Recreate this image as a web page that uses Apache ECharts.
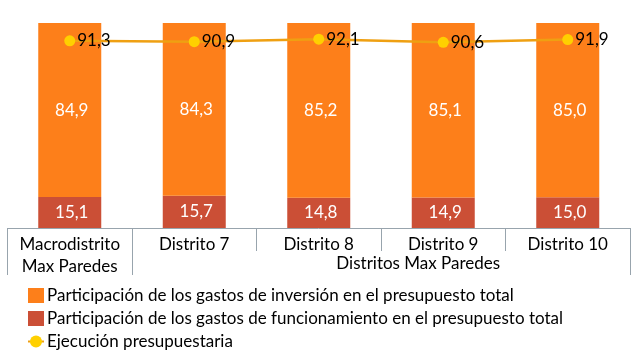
<!DOCTYPE html>
<html>
<head>
<meta charset="utf-8">
<script src="https://cdn.jsdelivr.net/npm/echarts@6/dist/echarts.min.js"></script>
<style>html,body{margin:0;padding:0;background:#fff}#c{width:638px;height:355px}</style>
</head>
<body>
<div id="c"></div>
<script>
const categories = ['Macrodistrito\nMax Paredes', 'Distrito 7', 'Distrito 8', 'Distrito 9', 'Distrito 10'];
const groupLabels = ['', '', '', 'Distritos Max Paredes', ''];
const inversion = [84.9, 84.3, 85.2, 85.1, 85.0];
const funcionamiento = [15.1, 15.7, 14.8, 14.9, 15.0];
const ejecucion = [91.3, 90.9, 92.1, 90.6, 91.9];
const seriesNames = [
  'Participación de los gastos de inversión en el presupuesto total',
  'Participación de los gastos de funcionamiento en el presupuesto total',
  'Ejecución presupuestaria'
];

const FONT = 'Lato';
const FS = 17;
const fmt = p => p.value.toFixed(1).replace('.', ',');
const chart = echarts.init(document.getElementById('c'));
chart.setOption({
  animation: false,
  textStyle: { fontFamily: FONT },
  grid: { left: 7.5, right: 8, top: 23, bottom: 127, containLabel: false },
  legend: {
    orient: 'vertical', left: 27, top: 287, padding: 0, itemGap: 6, itemWidth: 16, itemHeight: 15,
    height: 68,
    textStyle: { fontFamily: FONT, fontSize: FS, color: '#000', padding: [0,0,0,-2] },
    data: [
      { name: seriesNames[0], icon: 'rect' },
      { name: seriesNames[1], icon: 'rect' },
      { name: seriesNames[2] }
    ]
  },
  xAxis: [
    {
      type: 'category', data: categories, position: 'bottom',
      axisLine: { lineStyle: { color: '#98A4AD', width: 1 } },
      axisTick: { show: true, interval: 0, length: 23, lineStyle: { color: '#98A4AD' } },
      axisLabel: { interval: 0, margin: 6, fontFamily: FONT, fontSize: FS, color: '#000', lineHeight: 22 }
    },
    {
      type: 'category', data: groupLabels, position: 'bottom',
      axisLine: { show: false },
      axisTick: { show: true, interval: i => i === 0 || i === 1, length: 47, lineStyle: { color: '#98A4AD' } },
      axisLabel: { interval: 0, margin: 27, fontFamily: FONT, fontSize: FS, color: '#000',
        formatter: v => v ? '{a|' + v + '}' : '',
        rich: { a: { fontFamily: FONT, fontSize: FS, color: '#000', padding: [0, 50, 0, 0] } } }
    }
  ],
  yAxis: { type: 'value', min: 0, max: 100, show: false, splitLine: { show: false } },
  series: [
    {
      name: seriesNames[1], type: 'bar', stack: 't', data: funcionamiento, barWidth: 63,
      itemStyle: { color: '#CB4F36' },
      label: { show: true, position: 'inside', offset: [2, 0], color: '#fff', fontFamily: FONT, fontSize: FS, formatter: fmt }
    },
    {
      name: seriesNames[0], type: 'bar', stack: 't', data: inversion, barWidth: 63,
      itemStyle: { color: '#FD7F1A' },
      label: { show: true, position: 'inside', offset: [2, 0], color: '#fff', fontFamily: FONT, fontSize: FS, formatter: fmt }
    },
    {
      name: seriesNames[2], type: 'line', data: ejecucion, z: 5,
      lineStyle: { color: '#EFA012', width: 2.5 },
      itemStyle: { color: '#FFD000' },
      symbol: 'circle', symbolSize: 11,
      label: { show: true, position: 'right', distance: 2, color: '#000', fontFamily: FONT, fontSize: FS, formatter: fmt }
    }
  ]
});
</script>
</body>
</html>
